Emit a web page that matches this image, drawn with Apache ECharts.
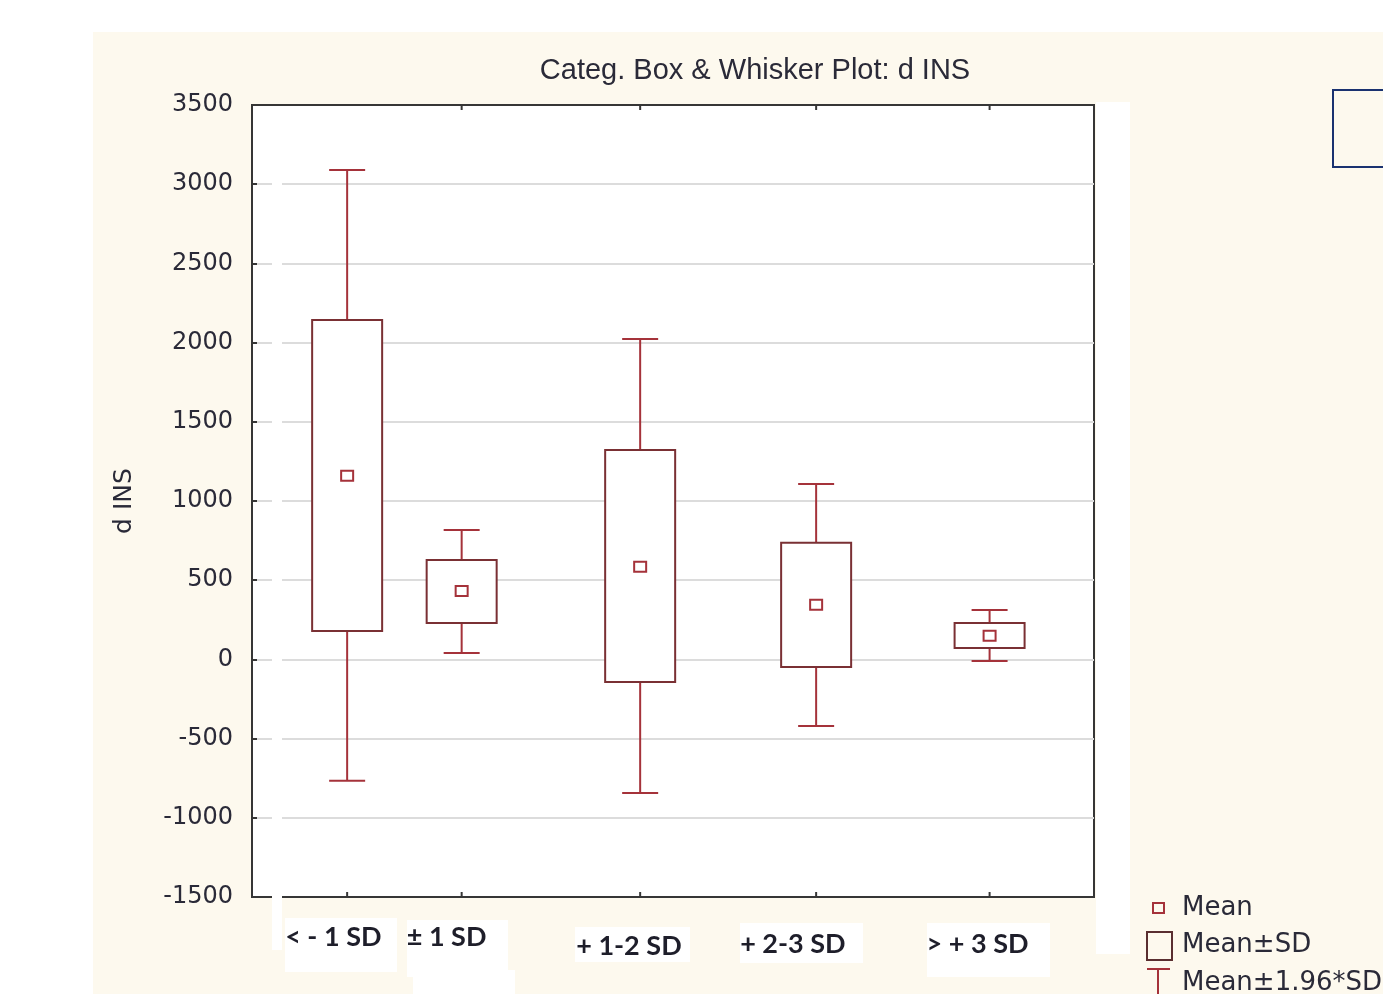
<!DOCTYPE html>
<html>
<head>
<meta charset="utf-8">
<title>Categ. Box & Whisker Plot: d INS</title>
<script src="https://cdn.jsdelivr.net/npm/echarts@6/dist/echarts.min.js"></script>
<style>
  html, body { margin: 0; padding: 0; background: #ffffff; }
  #chart { width: 1383px; height: 994px; }
</style>
</head>
<body>
<div id="chart"></div>
<script>
// Groups of d INS by SD band
const categories = ['< - 1 SD', '\u00b1 1 SD', '+ 1-2 SD', '+ 2-3 SD', '> + 3 SD'];
// Where each group sits along the horizontal axis (0-100 scale)
const catPos = [11.3, 24.9, 46.1, 67.0, 87.6];

// Mean, Mean±SD box, Mean±1.96*SD whiskers
const means       = [1160, 432, 585, 345, 150];
const boxLow      = [180, 230, -143, -48, 72];
const boxHigh     = [2143, 628, 1322, 736, 230];
const whiskerLow  = [-766, 40, -844, -420, -10];
const whiskerHigh = [3090, 817, 2023, 1108, 312];

// Value axis
const yMin = -1500, yMax = 3500, yStep = 500;

// Label placement relative to each group's axis position (px)
const labelDx = [-62, -55, -64, -76, -63];
const labelDy = [40, 40, 49, 47, 47];
// Which groups also carry a tick on the top frame
const topTick = [false, true, true, true, true];

const whiskerColor = '#a5323a';
const boxColor = '#7a3034';
const meanColor = '#a5323a';
const textColor = '#2a2a38';
const frameColor = '#363636';

const rows = catPos.map((x, i) => [x, means[i], boxLow[i], boxHigh[i], whiskerLow[i], whiskerHigh[i], i]);

function renderItem(params, api) {
  const x = api.value(0);
  const at = v => api.coord([x, v]);
  const m = at(api.value(1));
  const cx = m[0];
  const yBl = at(api.value(2))[1];
  const yBh = at(api.value(3))[1];
  const yWl = at(api.value(4))[1];
  const yWh = at(api.value(5))[1];
  const yBottom = at(yMin)[1];
  const yTop = at(yMax)[1];
  const idx = api.value(6);
  const wStyle = { stroke: whiskerColor, lineWidth: 2 };
  const tStyle = { stroke: frameColor, lineWidth: 2 };
  const children = [
    { type: 'line', shape: { x1: cx, y1: yWh, x2: cx, y2: yBh }, style: wStyle },
    { type: 'line', shape: { x1: cx - 18, y1: yWh, x2: cx + 18, y2: yWh }, style: wStyle },
    { type: 'line', shape: { x1: cx, y1: yBl, x2: cx, y2: yWl }, style: wStyle },
    { type: 'line', shape: { x1: cx - 18, y1: yWl, x2: cx + 18, y2: yWl }, style: wStyle },
    { type: 'rect', shape: { x: cx - 35, y: yBh, width: 70, height: yBl - yBh },
      style: { fill: '#ffffff', stroke: boxColor, lineWidth: 2 } },
    { type: 'rect', shape: { x: cx - 6, y: m[1] - 5, width: 12, height: 10 },
      style: { fill: '#ffffff', stroke: meanColor, lineWidth: 2 } },
    // tick on the bottom frame
    { type: 'line', shape: { x1: cx, y1: yBottom - 5, x2: cx, y2: yBottom }, style: tStyle },
    { type: 'text', style: {
        text: categories[idx], x: cx + labelDx[idx], y: yBottom + labelDy[idx],
        font: 'bold 27px Lato', fill: '#1e1e2a', align: 'left', verticalAlign: 'middle'
    } }
  ];
  if (topTick[idx]) {
    children.push({ type: 'line', shape: { x1: cx, y1: yTop, x2: cx, y2: yTop + 5 }, style: tStyle });
  }
  return { type: 'group', children: children };
}

const chart = echarts.init(document.getElementById('chart'), null, { renderer: 'canvas' });

const option = {
  backgroundColor: '#ffffff',
  animation: false,
  title: {
    text: 'Categ. Box & Whisker Plot: d INS',
    left: 750, top: 51, textAlign: 'center',
    textStyle: { fontFamily: 'Liberation Sans', fontSize: 29, fontWeight: 'normal', color: textColor }
  },
  grid: {
    left: 252, top: 105, width: 842, height: 792,
    show: true, backgroundColor: '#ffffff', borderColor: frameColor, borderWidth: 2
  },
  xAxis: {
    type: 'value', min: 0, max: 100,
    axisLine: { show: false }, axisTick: { show: false },
    axisLabel: { show: false }, splitLine: { show: false }
  },
  yAxis: {
    type: 'value', min: yMin, max: yMax, interval: yStep,
    name: 'd INS', nameLocation: 'middle', nameGap: 115, nameRotate: 90,
    nameTextStyle: { fontFamily: 'DejaVu Sans', fontSize: 25, color: textColor },
    axisLine: { show: true, lineStyle: { color: frameColor, width: 2 } },
    axisTick: { show: true, inside: true, length: 5, lineStyle: { color: frameColor, width: 2 } },
    axisLabel: { margin: 19, fontFamily: 'DejaVu Sans', fontSize: 24, color: textColor,
      formatter: v => String(v) },
    splitLine: { show: true, showMinLine: false, showMaxLine: false,
      lineStyle: { color: '#dcdcdc', width: 2 } }
  },
  graphic: [
    // cream page panel
    { type: 'rect', z: -10, silent: true, shape: { x: 93, y: 32, width: 1290, height: 962 },
      style: { fill: '#fdf9ee' } },
    // white strips around the plot frame and behind the group labels
    { type: 'rect', z: 1, silent: true, shape: { x: 1096, y: 102, width: 34, height: 852 }, style: { fill: '#ffffff' } },
    { type: 'rect', z: 1, silent: true, shape: { x: 272, y: 106, width: 10, height: 844 }, style: { fill: '#ffffff' } },
    { type: 'rect', z: 1, silent: true, shape: { x: 285, y: 918, width: 112, height: 54 }, style: { fill: '#ffffff' } },
    { type: 'rect', z: 1, silent: true, shape: { x: 407, y: 920, width: 101, height: 57 }, style: { fill: '#ffffff' } },
    { type: 'rect', z: 1, silent: true, shape: { x: 413, y: 970, width: 102, height: 24 }, style: { fill: '#ffffff' } },
    { type: 'rect', z: 1, silent: true, shape: { x: 575, y: 927, width: 115, height: 35 }, style: { fill: '#ffffff' } },
    { type: 'rect', z: 1, silent: true, shape: { x: 740, y: 923, width: 123, height: 40 }, style: { fill: '#ffffff' } },
    { type: 'rect', z: 1, silent: true, shape: { x: 927, y: 923, width: 123, height: 54 }, style: { fill: '#ffffff' } },
    // outlined box, top right
    { type: 'rect', z: 2, silent: true, shape: { x: 1333, y: 90, width: 60, height: 77 },
      style: { fill: 'none', stroke: '#1a3270', lineWidth: 2 } },
    // legend
    { type: 'rect', z: 2, silent: true, shape: { x: 1153, y: 903, width: 11, height: 10 },
      style: { fill: 'none', stroke: meanColor, lineWidth: 2 } },
    { type: 'text', z: 2, silent: true, style: { text: 'Mean', x: 1182, y: 908, font: '26px DejaVu Sans',
      fill: textColor, verticalAlign: 'middle' } },
    { type: 'rect', z: 2, silent: true, shape: { x: 1147, y: 932, width: 25, height: 28 },
      style: { fill: 'none', stroke: '#5a2e30', lineWidth: 2 } },
    { type: 'text', z: 2, silent: true, style: { text: 'Mean\u00b1SD', x: 1182, y: 945, font: '26px DejaVu Sans',
      fill: textColor, verticalAlign: 'middle' } },
    { type: 'line', z: 2, silent: true, shape: { x1: 1147, y1: 969, x2: 1170, y2: 969 },
      style: { stroke: whiskerColor, lineWidth: 2 } },
    { type: 'line', z: 2, silent: true, shape: { x1: 1158, y1: 969, x2: 1158, y2: 994 },
      style: { stroke: whiskerColor, lineWidth: 2 } },
    { type: 'text', z: 2, silent: true, style: { text: 'Mean\u00b11.96*SD', x: 1182, y: 983, font: '26px DejaVu Sans',
      fill: textColor, verticalAlign: 'middle' } }
  ],
  series: [{
    type: 'custom',
    z: 5,
    clip: false,
    renderItem: renderItem,
    encode: { x: 0, y: 1 },
    data: rows
  }]
};

chart.setOption(option);
</script>
</body>
</html>
